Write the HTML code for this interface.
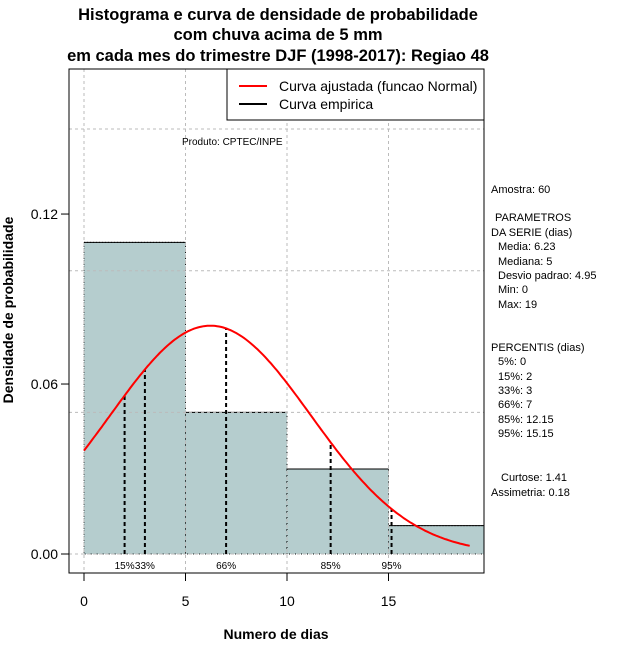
<!DOCTYPE html>
<html><head><meta charset="utf-8"><style>
body{margin:0;background:#fff;}
svg text{font-family:"Liberation Sans",sans-serif;}
</style></head><body>
<svg id="c" width="640" height="660" xmlns="http://www.w3.org/2000/svg">
<rect width="640" height="660" fill="#fff"/>
<g id="g"></g>
<g font-family="Liberation Sans, sans-serif">
<text x="278" y="20" font-size="16.5" font-weight="bold" text-anchor="middle">Histograma e curva de densidade de probabilidade</text>
<text x="278" y="40" font-size="16.5" font-weight="bold" text-anchor="middle">com chuva acima de 5 mm</text>
<text x="278" y="61" font-size="16.5" font-weight="bold" text-anchor="middle">em cada mes do trimestre DJF (1998-2017): Regiao 48</text>
<text x="276" y="639" font-size="14" font-weight="bold" text-anchor="middle">Numero de dias</text>
<text transform="translate(13,310) rotate(-90)" font-size="14" font-weight="bold" text-anchor="middle">Densidade de probabilidade</text>
<g>
<rect x="227" y="69" width="257" height="51" fill="#fff" stroke="#000"/>
<line x1="239" y1="86" x2="267" y2="86" stroke="#f00" stroke-width="2"/>
<text x="279" y="91" font-size="14">Curva ajustada (funcao Normal)</text>
<line x1="239" y1="104" x2="267" y2="104" stroke="#000" stroke-width="2"/>
<text x="279" y="109" font-size="14">Curva empirica</text>
</g>
<text x="182" y="145" font-size="10">Produto: CPTEC/INPE</text>
<g font-size="11">
<text x="491" y="193">Amostra: 60</text>
<text x="495" y="221">PARAMETROS</text>
<text x="491" y="236">DA SERIE (dias)</text>
<text x="498" y="250">Media: 6.23</text>
<text x="498" y="265">Mediana: 5</text>
<text x="498" y="279">Desvio padrao: 4.95</text>
<text x="498" y="293">Min: 0</text>
<text x="498" y="308">Max: 19</text>
<text x="491" y="351">PERCENTIS (dias)</text>
<text x="498" y="365">5%: 0</text>
<text x="498" y="380">15%: 2</text>
<text x="498" y="394">33%: 3</text>
<text x="498" y="408">66%: 7</text>
<text x="498" y="423">85%: 12.15</text>
<text x="498" y="437">95%: 15.15</text>
<text x="501" y="481">Curtose: 1.41</text>
<text x="491" y="496">Assimetria: 0.18</text>
</g>
</g>
</svg>
<script>
const binEdges=[0,5,10,15,20];
const densities=[0.11,0.05,0.03,0.01];
const pctLabels=["15%","33%","66%","85%","95%"];
const pctValues=[2,3,7,12.15,15.15];
const xTicks=[0,5,10,15];
const yTicks=[0,0.06,0.12];
const yGrid=[0,0.05,0.1,0.15];
const mean=6.23, sd=4.95, xmin=0, xmax=19;
const NS="http://www.w3.org/2000/svg";
const L=69,R=484,T=69,B=573;
const X=v=>84+v*20.3;
const Y=v=>554-v*2833;
const dens=v=>Math.exp(-0.5*((v-mean)/sd)**2)/(sd*Math.sqrt(2*Math.PI));
const g=document.getElementById('g');
function mk(t,a,txt){const e=document.createElementNS(NS,t);for(const k in a)e.setAttribute(k,a[k]);if(txt!=null)e.textContent=txt;g.appendChild(e);return e;}
const cp=mk('clipPath',{id:'cp'});const cr=document.createElementNS(NS,'rect');cr.setAttribute('x',L);cr.setAttribute('y',T);cr.setAttribute('width',R-L);cr.setAttribute('height',B-T);cp.appendChild(cr);
densities.forEach((d,i)=>{const x0=X(binEdges[i]),x1=X(binEdges[i+1]);
 const b=mk('rect',{x:x0,y:Y(d),width:x1-x0,height:Y(0)-Y(d),fill:'#b5cdce',stroke:'#000','stroke-width':1,'stroke-dasharray':'1,2','clip-path':'url(#cp)'});
 
 
 const tl=mk('line',{x1:x0,x2:x1,y1:Y(d),y2:Y(d),stroke:'#000','stroke-width':1,'clip-path':'url(#cp)'});
 
 
});
xTicks.forEach(v=>{const l=mk('line',{x1:X(v),x2:X(v),y1:T,y2:B,stroke:'#bbb','stroke-dasharray':'3,3'});
 
 });
yGrid.forEach(v=>{const l=mk('line',{x1:L,x2:R,y1:Y(v),y2:Y(v),stroke:'#bbb','stroke-dasharray':'3,3'});
 
 });
pctValues.forEach((v,i)=>{const l=mk('line',{x1:X(v),x2:X(v),y1:Y(0),y2:Y(dens(v)),stroke:'#000','stroke-width':2,'stroke-dasharray':'4,3'});
 
 
 const t=mk('text',{x:X(v),y:569,'font-size':10,'text-anchor':'middle'},pctLabels[i]);
 
 });
let pts=[];for(let k=0;k<=200;k++){const v=xmin+(xmax-xmin)*k/200;pts.push(X(v).toFixed(1)+','+Y(dens(v)).toFixed(1));}
const cv=mk('polyline',{points:pts.join(' '),fill:'none',stroke:'#f00','stroke-width':2});


const bx=mk('rect',{x:L,y:T,width:R-L,height:B-T,fill:'none',stroke:'#000'});


xTicks.forEach(v=>{mk('line',{x1:X(v),x2:X(v),y1:B,y2:B+8,stroke:'#000'});
 const t=mk('text',{x:X(v),y:606,'font-size':14,'text-anchor':'middle'},v);
 
 });
yTicks.forEach(v=>{mk('line',{x1:L,x2:L-8,y1:Y(v),y2:Y(v),stroke:'#000'});
 const t=mk('text',{x:58,y:Y(v)+5,'font-size':14,'text-anchor':'end'},v.toFixed(2));
 
 });
</script>
</body></html>
